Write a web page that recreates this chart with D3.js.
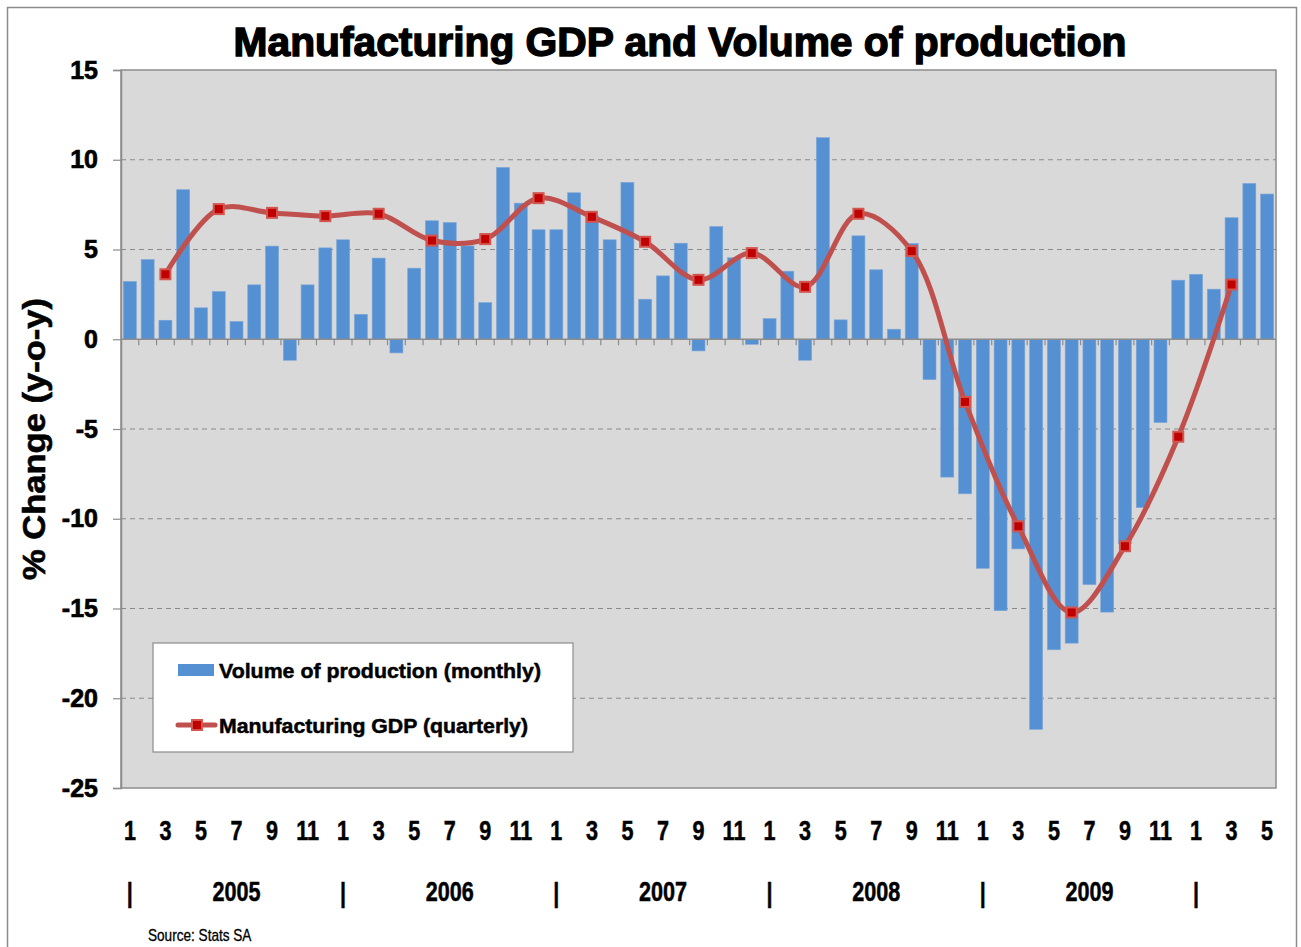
<!DOCTYPE html>
<html>
<head>
<meta charset="utf-8">
<script src="https://cdn.jsdelivr.net/npm/d3@7"></script>
<style>
  body { margin: 0; background: #fff; }
  svg { display: block; }
  .tick-lbl { font-family: "Liberation Sans", Arial, sans-serif; font-weight: bold; fill: #000; stroke: #000; stroke-width: 0.5; }
</style>
</head>
<body>
<svg id="chart" width="1301" height="947"></svg>
<script>
// month index 0 = Jan 2005 ... 64 = May 2010
const monthNums = [1,2,3,4,5,6,7,8,9,10,11,12, 1,2,3,4,5,6,7,8,9,10,11,12, 1,2,3,4,5,6,7,8,9,10,11,12,
                   1,2,3,4,5,6,7,8,9,10,11,12, 1,2,3,4,5,6,7,8,9,10,11,12, 1,2,3,4,5];

const volume = [
    3.22, 4.44, 1.06, 8.33, 1.75, 2.66, 0.99, 3.03, 5.19, -1.17, 3.03, 5.09,        // 2005
    5.54, 1.39, 4.52, -0.76, 3.96, 6.60, 6.50, 5.20, 2.04, 9.57, 7.58, 6.10,        // 2006
    6.10, 8.16, 6.88, 5.54, 8.74, 2.23, 3.53, 5.35, -0.65, 6.28, 4.54, -0.28,       // 2007
    1.15, 3.79, -1.17, 11.23, 1.08, 5.76, 3.87, 0.56, 5.33, -2.25, -7.68, -8.61,    // 2008
    -12.76, -15.12, -11.68, -21.73, -17.30, -16.93, -13.67, -15.20, -11.40, -9.38, -4.64, 3.29, // 2009
    3.62, 2.79, 6.77, 8.68, 8.09                                                    // 2010
];

// quarterly GDP, placed on Mar/Jun/Sep/Dec months
const gdpMonth = [2, 5, 8, 11, 14, 17, 20, 23, 26, 29, 32, 35, 38, 41, 44, 47, 50, 53, 56, 59, 62];
const gdp = [3.62, 7.25, 7.04, 6.86, 6.99, 5.50, 5.58, 7.86, 6.82, 5.43, 3.31, 4.80,
             2.92, 6.99, 4.91, -3.49, -10.42, -15.22, -11.53, -5.43, 3.05];

const years = ["2005", "2006", "2007", "2008", "2009"];
const yTicks = [15, 10, 5, 0, -5, -10, -15, -20, -25];

const svg = d3.select("#chart");
const plot = { left: 121, right: 1276, top: 70, bottom: 788 };

const x = d3.scaleBand()
    .domain(d3.range(volume.length))
    .range([plot.left, plot.right])
    .paddingInner(0.27)
    .paddingOuter(0.135);
const step = x.step();
const cx = i => x(i) + x.bandwidth() / 2;

const y = d3.scaleLinear().domain([-25, 15]).range([plot.bottom, plot.top]);

// outer frame
svg.append("rect").attr("x", 7.5).attr("y", 7.5).attr("width", 1289).attr("height", 960)
    .attr("fill", "#fff").attr("stroke", "#8c8c8c").attr("stroke-width", 1.5);

// title
svg.append("text")
    .attr("x", 680).attr("y", 56)
    .attr("text-anchor", "middle")
    .attr("textLength", 893).attr("lengthAdjust", "spacingAndGlyphs")
    .style("font-family", "'Liberation Sans', Arial, sans-serif")
    .style("font-weight", "bold").style("font-size", "40px")
    .attr("stroke", "#000").attr("stroke-width", 1.4)
    .text("Manufacturing GDP and Volume of production");

// plot area
svg.append("rect")
    .attr("x", plot.left).attr("y", plot.top)
    .attr("width", plot.right - plot.left).attr("height", plot.bottom - plot.top)
    .attr("fill", "#d9d9d9").attr("stroke", "#8c8c8c").attr("stroke-width", 1.5);

// gridlines
svg.append("g").selectAll("line")
    .data(yTicks.filter(d => d !== 0 && d !== 15 && d !== -25))
    .join("line")
    .attr("x1", plot.left).attr("x2", plot.right)
    .attr("y1", d => y(d)).attr("y2", d => y(d))
    .attr("stroke", "#8a8a8a").attr("stroke-width", 1.2)
    .attr("stroke-dasharray", "5,4");

// y axis
const yAxis = svg.append("g").attr("transform", `translate(${plot.left},0)`)
    .call(d3.axisLeft(y).tickValues(yTicks).tickSize(8).tickFormat(d => String(d)));
yAxis.select(".domain").attr("stroke", "#8c8c8c").attr("stroke-width", 1.5);
yAxis.selectAll(".tick line").attr("stroke", "#8c8c8c").attr("stroke-width", 1.2);
yAxis.selectAll(".tick text")
    .attr("x", -23)
    .style("font-family", "'Liberation Sans', Arial, sans-serif")
    .style("font-weight", "bold").style("font-size", "25px")
    .attr("fill", "#000").attr("stroke", "#000").attr("stroke-width", 0.7);

// y axis title
svg.append("text")
    .attr("transform", "translate(45,439) rotate(-90)")
    .attr("text-anchor", "middle")
    .attr("textLength", 282).attr("lengthAdjust", "spacingAndGlyphs")
    .style("font-family", "'Liberation Sans', Arial, sans-serif")
    .style("font-weight", "bold").style("font-size", "31px")
    .attr("stroke", "#000").attr("stroke-width", 0.6)
    .text("% Change (y-o-y)");

// bars
svg.append("g").selectAll("rect")
    .data(volume)
    .join("rect")
    .attr("x", (d, i) => x(i))
    .attr("width", x.bandwidth())
    .attr("y", d => y(Math.max(0, d)))
    .attr("height", d => Math.abs(y(d) - y(0)))
    .attr("fill", "#5590d3")
    .attr("stroke", "#7aa6d8").attr("stroke-width", 0.6);

// x axis line at zero with ticks at band boundaries
const xAxis = svg.append("g");
xAxis.append("line")
    .attr("x1", plot.left).attr("x2", plot.right)
    .attr("y1", y(0)).attr("y2", y(0))
    .attr("stroke", "#8c8c8c").attr("stroke-width", 1.5);
xAxis.selectAll("line.tk")
    .data(d3.range(1, volume.length))
    .join("line").attr("class", "tk")
    .attr("x1", i => plot.left + i * step).attr("x2", i => plot.left + i * step)
    .attr("y1", y(0)).attr("y2", y(0) + 6)
    .attr("stroke", "#8c8c8c").attr("stroke-width", 1.2);

// GDP line
const line = d3.line()
    .x((d, i) => cx(gdpMonth[i]))
    .y(d => y(d))
    .curve(d3.curveCatmullRom.alpha(0.5));
svg.append("path")
    .datum(gdp)
    .attr("d", line)
    .attr("fill", "none")
    .attr("stroke", "#c0504d").attr("stroke-width", 5)
    .attr("stroke-linejoin", "round");

svg.append("g").selectAll("rect")
    .data(gdp)
    .join("rect")
    .attr("x", (d, i) => cx(gdpMonth[i]) - 5)
    .attr("y", d => y(d) - 5)
    .attr("width", 10).attr("height", 10)
    .attr("fill", "#c00000").attr("stroke", "#d2554f").attr("stroke-width", 2);

// month labels (odd months), condensed
svg.append("g").selectAll("text")
    .data(monthNums.map((m, i) => ({ m, i })).filter(d => d.m % 2 === 1))
    .join("text").attr("class", "tick-lbl")
    .attr("transform", d => `translate(${cx(d.i)},840) scale(0.8,1)`)
    .attr("text-anchor", "middle")
    .style("font-size", "27px")
    .text(d => d.m);

// year separators and labels
const janIdx = monthNums.map((m, i) => m === 1 ? i : -1).filter(i => i >= 0);
svg.append("g").selectAll("text")
    .data(janIdx)
    .join("text").attr("class", "tick-lbl")
    .attr("transform", i => `translate(${cx(i)},902) scale(0.8,1)`)
    .attr("text-anchor", "middle")
    .style("font-size", "27px")
    .text("|");
svg.append("g").selectAll("text")
    .data(years)
    .join("text").attr("class", "tick-lbl")
    .attr("transform", (d, k) => `translate(${cx(janIdx[k] + 6)},901) scale(0.8,1)`)
    .attr("text-anchor", "middle")
    .style("font-size", "27px")
    .text(d => d);

// source
svg.append("text")
    .attr("transform", "translate(148,941) scale(0.85,1)")
    .style("font-family", "'Liberation Sans', Arial, sans-serif")
    .style("font-size", "16px")
    .attr("stroke", "#000").attr("stroke-width", 0.3)
    .text("Source: Stats SA");

// legend
const lg = svg.append("g").attr("transform", "translate(153,643)");
lg.append("rect").attr("width", 420).attr("height", 109)
    .attr("fill", "#fff").attr("stroke", "#8c8c8c").attr("stroke-width", 1.2);
lg.append("rect").attr("x", 25).attr("y", 21).attr("width", 36).attr("height", 12)
    .attr("fill", "#5590d3");
lg.append("line").attr("x1", 25).attr("x2", 62).attr("y1", 82).attr("y2", 82)
    .attr("stroke", "#c0504d").attr("stroke-width", 5).attr("stroke-linecap", "round");
lg.append("rect").attr("x", 39).attr("y", 77).attr("width", 10).attr("height", 10)
    .attr("fill", "#c00000").attr("stroke", "#d2554f").attr("stroke-width", 2);
const legendText = ["Volume of production (monthly)", "Manufacturing GDP (quarterly)"];
const legendLen = [322, 309];
lg.selectAll("text.lt")
    .data(legendText)
    .join("text").attr("class", "lt")
    .attr("x", 66).attr("y", (d, i) => i === 0 ? 35 : 90)
    .attr("textLength", (d, i) => legendLen[i]).attr("lengthAdjust", "spacingAndGlyphs")
    .style("font-family", "'Liberation Sans', Arial, sans-serif")
    .style("font-weight", "bold").style("font-size", "21px")
    .attr("stroke", "#000").attr("stroke-width", 0.5)
    .text(d => d);
</script>
</body>
</html>
